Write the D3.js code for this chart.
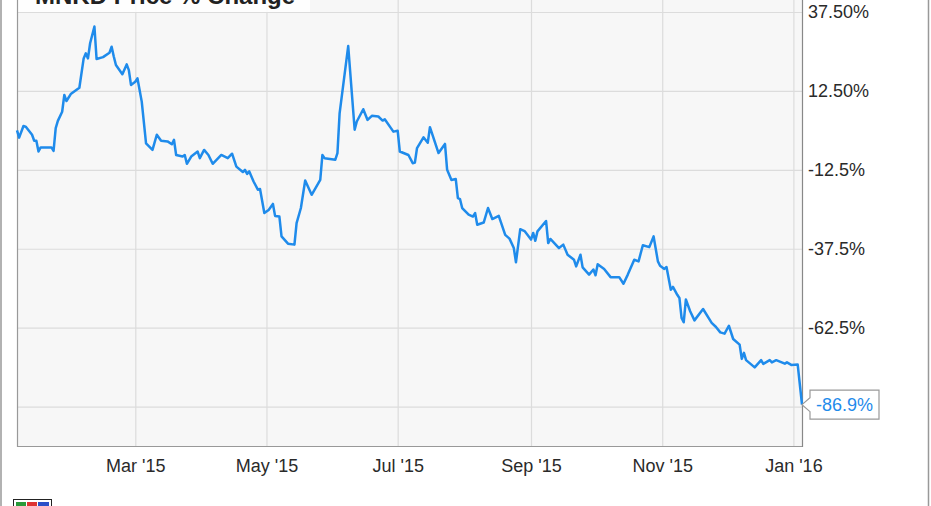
<!DOCTYPE html>
<html><head><meta charset="utf-8">
<script src="https://cdn.jsdelivr.net/npm/d3@7"></script>
<style>
body{margin:0;background:#fff;}
svg{display:block;font-family:"Liberation Sans",Arial,sans-serif;}
</style>
</head><body>
<svg id="c" width="931" height="506"></svg>
<script>
const title = "MNKD Price % Change";
const dates = ["2015-01-05","2015-01-06","2015-01-08","2015-01-09","2015-01-12","2015-01-13","2015-01-14","2015-01-15","2015-01-16","2015-01-21","2015-01-22","2015-01-23","2015-01-24","2015-01-26","2015-01-27","2015-01-28","2015-01-30",
"2015-02-03","2015-02-05","2015-02-06","2015-02-07","2015-02-08","2015-02-10","2015-02-11","2015-02-14","2015-02-17","2015-02-18","2015-02-19","2015-02-20","2015-02-23","2015-02-25","2015-02-26","2015-02-27",
"2015-03-01","2015-03-02","2015-03-04","2015-03-06","2015-03-09","2015-03-11","2015-03-13","2015-03-16","2015-03-18","2015-03-19","2015-03-20","2015-03-23","2015-03-24","2015-03-25","2015-03-27","2015-03-30","2015-03-31",
"2015-04-02","2015-04-04","2015-04-06","2015-04-10","2015-04-13","2015-04-15","2015-04-17","2015-04-20","2015-04-21","2015-04-22","2015-04-23","2015-04-25","2015-04-27","2015-04-28","2015-04-30",
"2015-05-02","2015-05-04","2015-05-05","2015-05-07","2015-05-08","2015-05-11","2015-05-14","2015-05-15","2015-05-17","2015-05-19","2015-05-22","2015-05-26","2015-05-27","2015-05-28",
"2015-06-02","2015-06-03","2015-06-04","2015-06-08","2015-06-11","2015-06-12","2015-06-15","2015-06-17","2015-06-19","2015-06-22","2015-06-24","2015-06-25","2015-06-29",
"2015-07-01","2015-07-02","2015-07-06","2015-07-08","2015-07-09","2015-07-10","2015-07-13","2015-07-15","2015-07-16","2015-07-20","2015-07-23","2015-07-24","2015-07-26","2015-07-28","2015-07-29","2015-07-30","2015-07-31",
"2015-08-03","2015-08-05","2015-08-06","2015-08-07","2015-08-10","2015-08-12","2015-08-14","2015-08-17","2015-08-20","2015-08-22","2015-08-24","2015-08-25","2015-08-27","2015-08-29",
"2015-09-01","2015-09-02","2015-09-03","2015-09-04","2015-09-08","2015-09-09","2015-09-10","2015-09-14","2015-09-16","2015-09-18","2015-09-21","2015-09-22","2015-09-24","2015-09-25","2015-09-28","2015-09-30",
"2015-10-01","2015-10-02","2015-10-05","2015-10-08","2015-10-09","2015-10-12","2015-10-14","2015-10-16","2015-10-19","2015-10-21","2015-10-23","2015-10-26","2015-10-28","2015-10-30","2015-10-31",
"2015-11-02","2015-11-03","2015-11-05","2015-11-06","2015-11-08","2015-11-09","2015-11-10","2015-11-11","2015-11-12","2015-11-14","2015-11-16","2015-11-20","2015-11-24","2015-11-26","2015-11-28","2015-11-30",
"2015-12-02","2015-12-04","2015-12-07","2015-12-08","2015-12-09","2015-12-10","2015-12-14","2015-12-17","2015-12-18","2015-12-21","2015-12-22","2015-12-24","2015-12-28","2015-12-29","2015-12-31",
"2016-01-03","2016-01-05"];
const values = [0,-2.3,1.4,1.2,-1.4,-3.3,-3.3,-6.7,-5.4,-5.4,-6.5,0.7,3.0,5.9,11.2,9.3,11.5,
13.5,22.8,24.4,22.8,27.6,32.9,22.6,23.2,24.6,26.5,23.4,20.7,17.8,20.9,19.1,14.4,
15.4,16.5,9.1,-4.1,-6.2,-1.4,-3.3,-3.5,-4.4,-3.0,-7.8,-8.3,-7.8,-10.6,-8.3,-6.7,-8.8,
-6.2,-7.8,-10.6,-7.8,-8.8,-7.4,-11.5,-13.2,-12.5,-13.8,-13.0,-16.2,-18.8,-18.6,-26.2,
-25.2,-23.3,-27.1,-27.3,-33.6,-35.9,-36.2,-29.4,-24.6,-15.9,-20.4,-15.7,-7.8,-8.8,
-9.3,-7.2,5.4,26.7,0.2,2.8,6.7,3.3,4.6,4.4,3.1,3.5,-0.4,
-0.1,-6.7,-7.8,-10.4,-10.2,-5.6,-2.2,-3.9,1.0,-7.2,-4.3,-12.5,-15.7,-15.4,-21.5,-21.8,-24.6,
-26.7,-27.3,-26.2,-29.9,-29.2,-24.6,-28.1,-27.1,-33.1,-34.3,-37.3,-41.8,-31.3,-31.9,
-34.6,-32.5,-35.0,-32.0,-28.7,-35.7,-34.4,-37.3,-36.2,-39.4,-41.0,-43.1,-39.4,-43.4,-45.7,-44.1,
-45.9,-42.4,-43.9,-46.5,-46.5,-46.5,-48.6,-45.7,-41.0,-41.5,-36.4,-37.0,-33.6,-41.5,-42.9,
-43.9,-43.3,-50.5,-49.6,-52.1,-53.1,-59.4,-60.8,-53.6,-57.3,-60.2,-56.6,-61.0,-62.3,-64.0,-64.4,
-61.9,-66.1,-67.9,-72.4,-70.5,-72.8,-75.1,-72.8,-74.0,-72.8,-73.5,-72.8,-73.9,-73.5,-74.3,
-74.2,-86.9];
const yTicks = [37.5, 12.5, -12.5, -37.5, -62.5, -87.5];
const yTickLabels = ["37.50%", "12.50%", "-12.5%", "-37.5%", "-62.5%", ""];
const xTickDates = ["2015-03-01","2015-05-01","2015-07-01","2015-09-01","2015-11-01","2016-01-01"];
const xTickLabels = ["Mar '15","May '15","Jul '15","Sep '15","Nov '15","Jan '16"];
const lastLabel = "-86.9%";

const parse = d3.timeParse("%Y-%m-%d");
const data = dates.map((d, i) => ({date: parse(d), v: values[i]}));
const L = 17, R = 802, T = -10, B = 446;
const x = d3.scaleTime().domain([parse("2015-01-05"), parse("2016-01-05")]).range([L, R]);
const y = d3.scaleLinear().domain([-100, 37.5]).range([B, 12]);
const svg = d3.select("#c");
const lineColor = "#1f8beb";

// outer frame sides
svg.append("line").attr("x1",1).attr("x2",1).attr("y1",0).attr("y2",506).attr("stroke","#999").attr("stroke-width",1.5);
svg.append("line").attr("x1",928.5).attr("x2",928.5).attr("y1",0).attr("y2",506).attr("stroke","#999").attr("stroke-width",1.5);

// plot background
svg.append("rect").attr("x",L).attr("y",T).attr("width",R-L).attr("height",B-T).attr("fill","#f7f7f7");

// grids
const gy = svg.append("g").attr("transform",`translate(${R},0)`)
  .call(d3.axisRight(y).tickValues(yTicks).tickSize(-(R-L)).tickFormat(""));
gy.select(".domain").remove();
gy.selectAll("line").attr("stroke","#dcdcdc").attr("stroke-width",1.2);
const gx = svg.append("g").attr("transform",`translate(0,${B})`)
  .call(d3.axisBottom(x).tickValues(xTickDates.map(parse)).tickSize(-(B-T)).tickFormat(""));
gx.select(".domain").remove();
gx.selectAll("line").attr("stroke","#dcdcdc").attr("stroke-width",1.2);

// title box (cut off at top, as in the reference)
svg.append("rect").attr("x",10).attr("y",-30).attr("width",300).attr("height",42).attr("fill","#fff").attr("opacity",0.85);
svg.append("text").attr("x",35).attr("y",4).attr("font-size",24).attr("font-weight","bold").attr("fill","#222").text(title);

// borders
svg.append("line").attr("x1",L+0.5).attr("x2",L+0.5).attr("y1",0).attr("y2",B+1).attr("stroke","#999").attr("stroke-width",1.2);
svg.append("line").attr("x1",L).attr("x2",R).attr("y1",B+0.5).attr("y2",B+0.5).attr("stroke","#999").attr("stroke-width",1.2);
svg.append("line").attr("x1",R+0.5).attr("x2",R+0.5).attr("y1",0).attr("y2",B+1).attr("stroke","#888").attr("stroke-width",1.2);

// line
const line = d3.line().x(d => x(d.date)).y(d => y(d.v));
svg.append("path").datum(data).attr("d", line).attr("fill","none")
  .attr("stroke", lineColor).attr("stroke-width",2.5).attr("stroke-linejoin","round");

// y labels
const ya = svg.append("g").attr("transform",`translate(${R},0)`)
  .call(d3.axisRight(y).tickValues(yTicks).tickSize(0).tickPadding(6).tickFormat((d,i)=>yTickLabels[i]));
ya.select(".domain").remove();
ya.selectAll("text").attr("font-size",18).attr("font-family","'Liberation Sans',Arial,sans-serif").attr("fill","#2a2a2a");

// x labels
const xa = svg.append("g").attr("transform",`translate(0,${B})`)
  .call(d3.axisBottom(x).tickValues(xTickDates.map(parse)).tickSize(0).tickPadding(13).tickFormat((d,i)=>xTickLabels[i]));
xa.select(".domain").remove();
xa.selectAll("text").attr("font-size",18).attr("font-family","'Liberation Sans',Arial,sans-serif").attr("fill","#2a2a2a");

// last value callout
const last = data[data.length-1];
const lx = x(last.date), ly = y(last.v);
const bx = lx + 8, bw = 69, bh = 29;
svg.append("path")
  .attr("d", `M${lx},${ly} L${bx},${ly-7} L${bx},${ly-bh/2} L${bx+bw},${ly-bh/2} L${bx+bw},${ly+bh/2} L${bx},${ly+bh/2} L${bx},${ly+7} Z`)
  .attr("fill","#fff").attr("stroke","#999").attr("stroke-width",1.2);
svg.append("text").attr("x",bx+bw/2).attr("y",ly+6.5).attr("text-anchor","middle")
  .attr("font-size",18).attr("fill",lineColor).text(lastLabel);

// logo (partially visible)
const lg = svg.append("g").attr("transform","translate(13,499)");
lg.append("rect").attr("x",0.5).attr("y",0.5).attr("width",38).attr("height",9).attr("fill","#fff").attr("stroke","#222");
lg.append("rect").attr("x",3).attr("y",3).attr("width",10).attr("height",7).attr("fill","#2a9a3a");
lg.append("rect").attr("x",14).attr("y",3).attr("width",10).attr("height",7).attr("fill","#d33");
lg.append("rect").attr("x",25).attr("y",3).attr("width",11).attr("height",7).attr("fill","#2a4fc8");
</script>
</body></html>
